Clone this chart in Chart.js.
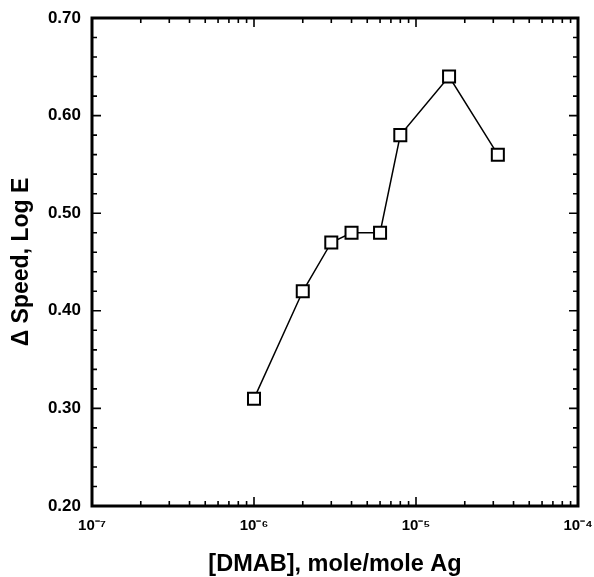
<!DOCTYPE html>
<html>
<head>
<meta charset="utf-8">
<script src="https://cdn.jsdelivr.net/npm/chart.js@4"></script>
<style>
  body { margin: 0; background: #fff; }
  #wrap { width: 594px; height: 577px; position: relative; }
</style>
</head>
<body>
<div id="wrap"><canvas id="dmabChart"></canvas></div>
<script>
// concentration of DMAB (mole/mole Ag) and speed gain
const dmab = [1e-6, 2e-6, 3e-6, 4e-6, 6e-6, 8e-6, 1.6e-5, 3.2e-5];
const speedGain = [0.31, 0.42, 0.47, 0.48, 0.48, 0.58, 0.64, 0.56];

// axis ticks
const xTicks = [1e-7, 1e-6, 1e-5, 1e-4];
const xTickLabels = ["10\u207B\u2077", "10\u207B\u2076", "10\u207B\u2075", "10\u207B\u2074"];
const yTicks = [0.2, 0.3, 0.4, 0.5, 0.6, 0.7];
const yTickLabels = ["0.20", "0.30", "0.40", "0.50", "0.60", "0.70"];

const FONT = "'Liberation Sans', Arial, Helvetica, sans-serif";

// frame + inward tick marks on all four sides
const frameTicks = {
  id: "frameTicks",
  afterDatasetsDraw(chart) {
    const { ctx, chartArea: a, scales: { x, y } } = chart;
    ctx.save();
    ctx.strokeStyle = "#000";
    ctx.lineWidth = 1.6;
    ctx.beginPath();
    // y ticks every 0.02, major every 0.1
    for (let i = 0; i <= 25; i++) {
      const v = 0.2 + i * 0.02;
      const py = y.getPixelForValue(v);
      const len = i % 5 === 0 ? 9 : 5;
      ctx.moveTo(a.left, py); ctx.lineTo(a.left + len, py);
      ctx.moveTo(a.right, py); ctx.lineTo(a.right - len, py);
    }
    // x log ticks 1..9 per decade
    for (let d = -7; d <= -5; d++) {
      for (let m = 1; m <= 9; m++) {
        const px = x.getPixelForValue(m * Math.pow(10, d));
        const len = m === 1 ? 9 : 5;
        ctx.moveTo(px, a.bottom); ctx.lineTo(px, a.bottom - len);
        ctx.moveTo(px, a.top); ctx.lineTo(px, a.top + len);
      }
    }
    ctx.stroke();
    ctx.lineWidth = 3;
    ctx.strokeRect(a.left, a.top, a.right - a.left, a.bottom - a.top);
    ctx.restore();
  }
};

new Chart(document.getElementById("dmabChart"), {
  type: "line",
  data: {
    datasets: [{
      data: dmab.map((v, i) => ({ x: v, y: speedGain[i] })),
      borderColor: "#000",
      borderWidth: 1.5,
      pointStyle: "rect",
      pointRadius: 8.5,
      pointBorderWidth: 2,
      pointBackgroundColor: "#fff",
      pointBorderColor: "#000",
      tension: 0
    }]
  },
  options: {
    responsive: true,
    maintainAspectRatio: false,
    animation: false,
    events: [],
    layout: { padding: { top: 18, right: 16, left: 0, bottom: 0 } },
    plugins: { legend: { display: false }, tooltip: { enabled: false } },
    scales: {
      x: {
        type: "logarithmic",
        min: 1e-7,
        max: 1e-4,
        grid: { display: false, drawTicks: false },
        border: { display: false },
        afterBuildTicks: s => { s.ticks = xTicks.map(v => ({ value: v })); },
        afterFit: s => { s.height = 71; s.paddingLeft = 0; s.paddingRight = 0; },
        ticks: {
          padding: 11,
          color: "#000",
          maxRotation: 0,
          font: { family: FONT, size: 15, weight: "bold" },
          callback: (v, i) => xTickLabels[i]
        },
        title: {
          display: true,
          text: "[DMAB], mole/mole Ag",
          color: "#000",
          font: { family: FONT, size: 23.5, weight: "bold", lineHeight: 1 },
          padding: { top: 0, bottom: 1 }
        }
      },
      y: {
        min: 0.2,
        max: 0.7,
        grid: { display: false, drawTicks: false },
        border: { display: false },
        afterBuildTicks: s => { s.ticks = yTicks.map(v => ({ value: v })); },
        afterFit: s => { s.width = 92; s.paddingTop = 0; s.paddingBottom = 0; },
        ticks: {
          padding: 11,
          color: "#000",
          font: { family: FONT, size: 17, weight: "bold" },
          callback: (v, i) => yTickLabels[i]
        },
        title: {
          display: true,
          text: "\u0394 Speed, Log E",
          color: "#000",
          font: { family: FONT, size: 23, weight: "bold", lineHeight: 1.2 },
          padding: { top: 8, bottom: 0 }
        }
      }
    }
  },
  plugins: [frameTicks]
});
</script>
</body>
</html>
